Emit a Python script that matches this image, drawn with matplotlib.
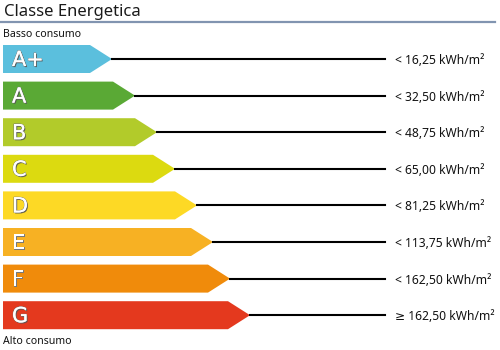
import matplotlib.pyplot as plt
import matplotlib.patheffects as pe
from matplotlib.patches import Polygon

# energy classes, thresholds and arrow lengths (px, tip position)
classes = ['A+', 'A', 'B', 'C', 'D', 'E', 'F', 'G']
limits = ['< 16,25', '< 32,50', '< 48,75', '< 65,00', '< 81,25',
          '< 113,75', '< 162,50', '\u2265 162,50']
arrow_tip = [112, 135, 157, 175, 197, 213, 230, 250]
colors = ['#5bbfdd', '#5aa935', '#b2cb2a', '#dcda10',
          '#fdd925', '#f7b123', '#f08b0b', '#e4391e']

plt.rcParams['font.family'] = ['Noto Sans', 'DejaVu Sans']

fig = plt.figure(figsize=(5, 3.5), dpi=100)
ax = fig.add_axes([0, 0, 1, 1])
ax.set_xlim(0, 500)
ax.set_ylim(350, 0)
ax.axis('off')

# header
ax.text(4, 12, 'Classe Energetica', fontsize=12, color='#1a1a1a',
        va='center', ha='left')
ax.plot([0, 495], [22, 22], color='#8194b0', lw=1.6)
ax.text(3, 34.5, 'Basso consumo', fontsize=7.6, color='#111111',
        va='center', ha='left')

y0, step, h, head = 59, 36.6, 28, 22
for i, (cls, lim, tip, c) in enumerate(zip(classes, limits, arrow_tip, colors)):
    yc = y0 + i * step
    body = tip - head
    pts = [(3, yc - h / 2), (body, yc - h / 2), (tip, yc),
           (body, yc + h / 2), (3, yc + h / 2)]
    ax.add_patch(Polygon(pts, closed=True, facecolor=c, edgecolor='none'))
    ax.plot([tip, 385], [yc, yc], color='black', lw=1.5)
    ax.text(12, yc + 1, cls, fontsize=15, color='white', va='center',
            ha='left', family='DejaVu Sans',
            path_effects=[pe.withSimplePatchShadow(offset=(0.8, -0.8),
                                                   shadow_rgbFace='#555555',
                                                   alpha=0.9),
                          pe.withStroke(linewidth=0.7, foreground='#777777'),
                          pe.Normal()])
    ax.text(395, yc + 1.5, lim + ' kWh/m\u00b2', fontsize=8.7,
            color='#111111', va='center', ha='left')

ax.text(3, 341.5, 'Alto consumo', fontsize=7.6, color='#111111',
        va='center', ha='left')

fig.savefig('out.png', dpi=100)
